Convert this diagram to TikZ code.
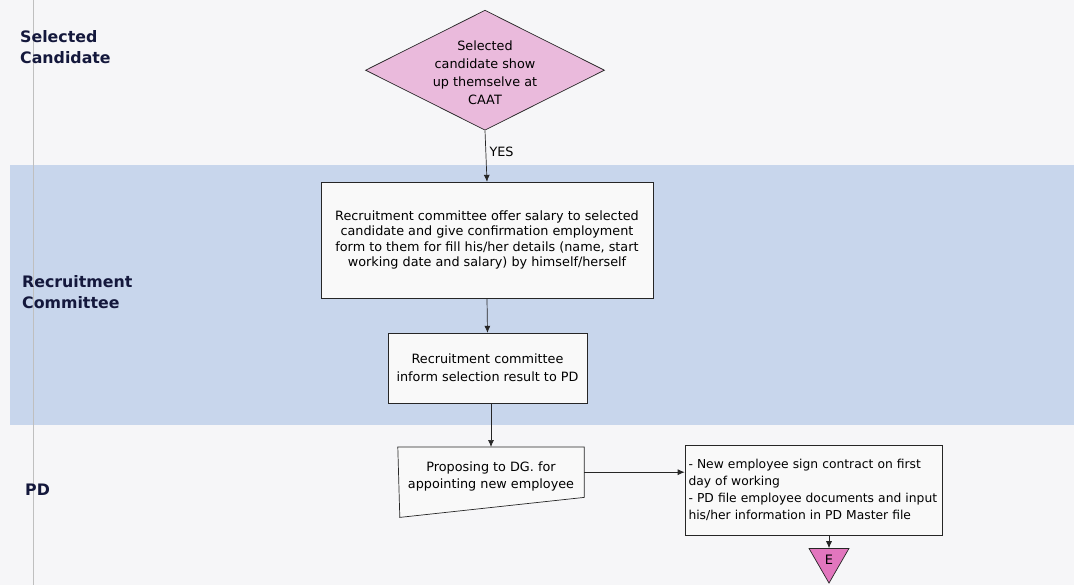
\documentclass[tikz,border=0pt]{standalone}
\usepackage{fontspec}
\setmainfont{DejaVu Sans}
\newfontfamily\lanefont{DejaVu Sans}
\usetikzlibrary{positioning,arrows.meta,calc,shapes.geometric}
\definecolor{pagebg}{RGB}{246,246,248}
\definecolor{laneblue}{RGB}{200,214,236}
\definecolor{decpink}{RGB}{234,186,220}
\definecolor{endpink}{RGB}{226,118,190}
\definecolor{boxfill}{RGB}{249,249,249}
\definecolor{lanetext}{RGB}{20,24,60}

\begin{document}
\begin{tikzpicture}[x=1pt,y=-1pt,
  lanelabel/.style={anchor=north west,align=left,text=lanetext,
    font=\lanefont\bfseries\fontsize{15.8}{21}\selectfont,inner sep=0pt},
  stepbox/.style={draw=black!85,line width=0.7pt,fill=boxfill,align=center,
    font=\fontsize{12.8}{15.5}\selectfont,inner sep=2pt},
  flow/.style={draw=black!85,line width=0.7pt,-{Latex[length=7pt,width=6pt]}}]
  % page and lanes
  \fill[pagebg] (0,0) rectangle (1074,585);
  \fill[laneblue] (10,165) rectangle (1074,425);
  \draw[black!25] (33,0) -- (33,585);
  \useasboundingbox (0,0) rectangle (1074,585);
  \node[lanelabel] (laneA) at (20,30) {Selected\\Candidate};
  \node[lanelabel] (laneB) at (22,275) {Recruitment\\Committee};
  \node[lanelabel] (laneC) at (25,484) {PD};
  % decision
  \node[diamond,draw=black!85,line width=0.7pt,fill=decpink,aspect=2,
    minimum width=239pt,minimum height=120pt,inner sep=0pt] (show) at (485,70) {};
  \node[align=center,font=\fontsize{12.8}{18}\selectfont] at (485,73)
    {Selected\\candidate show\\up themselve at\\CAAT};
  % steps
  \node[stepbox,minimum width=332pt,minimum height=116pt] (offer) at (487,240)
    {Recruitment committee offer salary to selected\\candidate and give confirmation employment\\form to them for fill his/her details (name, start\\working date and salary) by himself/herself};
  \node[stepbox,minimum width=199pt,minimum height=70pt,
    font=\fontsize{12.8}{18}\selectfont] (inform) at (487.5,368)
    {Recruitment committee\\inform selection result to PD};
  \node[minimum width=186pt,minimum height=50pt,inner sep=0pt] (propose)
    at (491,472) {};
  \draw[black!85,line width=0.7pt,fill=boxfill] (propose.north west)
    -- (propose.north east) -- (propose.south east)
    -- ($(propose.south west)+(2,20)$) -- cycle;
  \node at ($(propose)+(0,4)$) [align=center,font=\fontsize{12.8}{17}\selectfont]
    {Proposing to DG. for\\appointing new employee};
  \node[stepbox,align=left,minimum width=257pt,minimum height=90pt,
    font=\fontsize{12.3}{17}\selectfont,text width=250pt,inner xsep=3.5pt]
    (contract) at (813.5,490)
    {- New employee sign contract on first\\day of working\\- PD file employee documents and input\\his/her information in PD Master file};
  \node[regular polygon,regular polygon sides=3,shape border rotate=180,
    draw=black!85,line width=0.7pt,fill=endpink,minimum size=46pt,inner sep=0pt,
    anchor=north] (endE) at (829,548) {};
  \node[font=\fontsize{13}{14}\selectfont] at ($(endE.north)+(0,12)$) {E};
  % connectors
  \draw[flow] (show.south) -- node[right,font=\fontsize{12.8}{14}\selectfont,
    pos=0.42] {YES} (offer.north);
  \draw[flow] (offer.south) -- (inform.north);
  \draw[flow] (inform.south -| propose.north) -- (propose.north);
  \draw[flow] (propose.east) -- (contract.west |- propose.east);
  \draw[flow] (contract.south -| endE.north) -- (endE.north);
\end{tikzpicture}
\end{document}
